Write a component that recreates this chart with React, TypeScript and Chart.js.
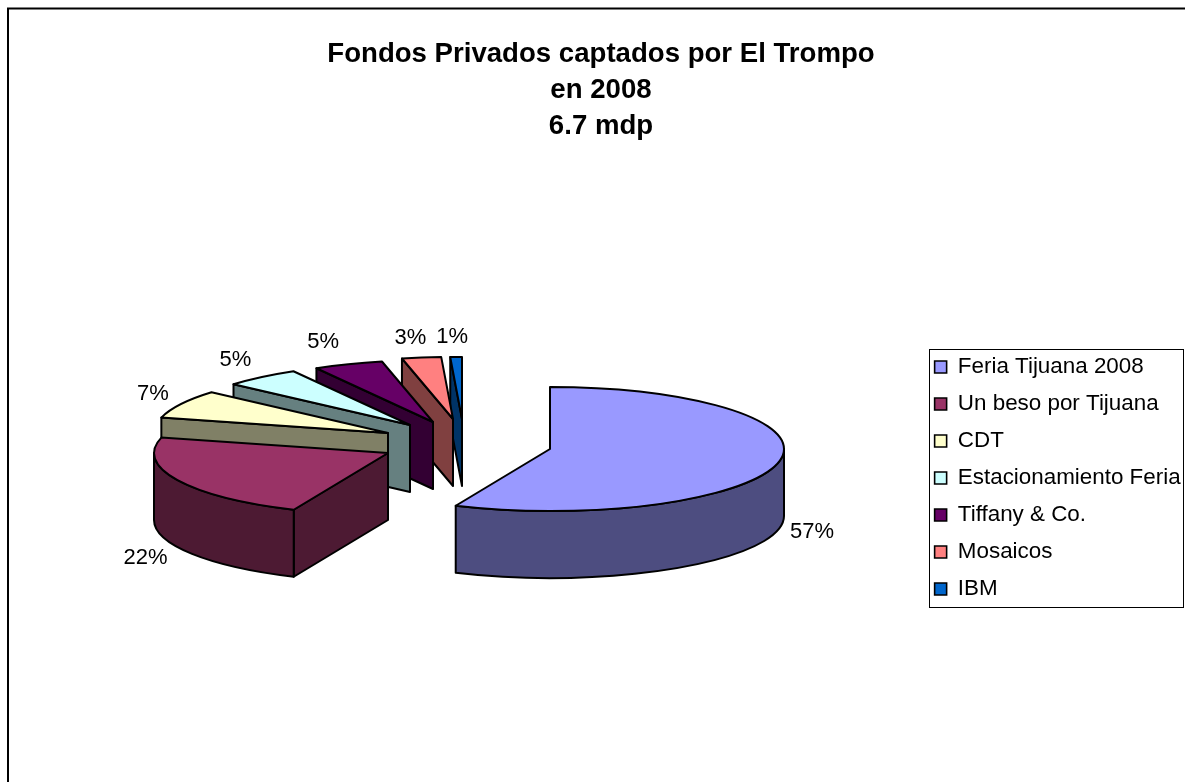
import React, { useEffect, useRef } from "react";
import { Chart, registerables } from "chart.js";

Chart.register(...registerables);

const categories = [
  "Feria Tijuana 2008",
  "Un beso por Tijuana",
  "CDT",
  "Estacionamiento Feria",
  "Tiffany & Co.",
  "Mosaicos",
  "IBM",
];
const shares = [56.6, 22.4, 7.4, 5.3, 4.8, 2.7, 0.8];
const sliceColors = ["#9999FF", "#993366", "#FFFFCC", "#CCFFFF", "#660066", "#FF8080", "#0066CC"];
const titleLines = ["Fondos Privados captados por El Trompo", "en 2008", "6.7 mdp"];

const FONT = "'Liberation Sans', Arial, sans-serif";
const WIDTH = 1185;
const HEIGHT = 782;

// Presentation of the 3D exploded pie
const PIE_CENTER = { x: 550, y: 449 };
const PIE_RADIUS = 234;
const TILT = 0.265;
const DEPTH = 67;
const EXPLODE_X = [0, -162, -162, -140, -117, -97, -88];
const EXPLODE_Y = [0, 4, -16, -24, -27, -30, -30];
const LABEL_NUDGE_X = [33, -32, -28, -26, -25, -11, -4];
const LABEL_NUDGE_Y = [70, 78, -10, -17, -22, -20, -20];

function darken(hex: string): string {
  const n = parseInt(hex.slice(1), 16);
  const r = Math.round(((n >> 16) & 255) / 2);
  const g = Math.round(((n >> 8) & 255) / 2);
  const b = Math.round((n & 255) / 2);
  return `rgb(${r},${g},${b})`;
}

const pie3d = {
  id: "pie3d",
  beforeDraw(chart: any) {
    const { ctx } = chart;
    ctx.save();
    ctx.fillStyle = "#ffffff";
    ctx.fillRect(0, 0, WIDTH, HEIGHT);
    ctx.fillStyle = "#808080";
    ctx.fillRect(7, 7, WIDTH - 7, 1);
    ctx.fillStyle = "#000000";
    ctx.fillRect(7, 8, WIDTH - 7, 1.5);
    ctx.fillRect(7, 8, 2, HEIGHT - 8);
    ctx.restore();
  },
  beforeDatasetDraw(chart: any, args: any) {
    const { ctx } = chart;
    const arcs = args.meta.data;
    ctx.save();
    ctx.lineWidth = 2;
    ctx.lineJoin = "round";
    ctx.strokeStyle = "#000000";
    for (let i = arcs.length - 1; i >= 0; i--) {
      const arc = arcs[i];
      const a = arc.startAngle;
      const b = arc.endAngle;
      const rx = arc.outerRadius;
      const ry = rx * TILT;
      const cx = PIE_CENTER.x + EXPLODE_X[i];
      const cy = PIE_CENTER.y + EXPLODE_Y[i];
      const top = sliceColors[i];
      const side = darken(top);
      const cut = (ang: number) => {
        const x = cx + rx * Math.cos(ang);
        const y = cy + ry * Math.sin(ang);
        ctx.beginPath();
        ctx.moveTo(cx, cy);
        ctx.lineTo(x, y);
        ctx.lineTo(x, y + DEPTH);
        ctx.lineTo(cx, cy + DEPTH);
        ctx.closePath();
        ctx.fillStyle = side;
        ctx.fill();
        ctx.stroke();
      };
      if (Math.cos(a) < -1e-9) cut(a);
      if (Math.cos(b) > 1e-9) cut(b);
      const rimStart = Math.max(a, 0);
      const rimEnd = Math.min(b, Math.PI);
      if (rimStart < rimEnd) {
        ctx.beginPath();
        ctx.ellipse(cx, cy, rx, ry, 0, rimStart, rimEnd);
        ctx.ellipse(cx, cy + DEPTH, rx, ry, 0, rimEnd, rimStart, true);
        ctx.closePath();
        ctx.fillStyle = side;
        ctx.fill();
        ctx.stroke();
      }
      ctx.beginPath();
      ctx.moveTo(cx, cy);
      ctx.ellipse(cx, cy, rx, ry, 0, a, b);
      ctx.closePath();
      ctx.fillStyle = top;
      ctx.fill();
      ctx.stroke();
    }
    ctx.restore();
    return false;
  },
  afterDraw(chart: any) {
    const { ctx, legend } = chart;
    const arcs = chart.getDatasetMeta(0).data;
    ctx.save();
    ctx.fillStyle = "#000000";
    ctx.font = `22px ${FONT}`;
    ctx.textAlign = "center";
    ctx.textBaseline = "middle";
    arcs.forEach((arc: any, i: number) => {
      const mid = (arc.startAngle + arc.endAngle) / 2;
      const x = PIE_CENTER.x + EXPLODE_X[i] + arc.outerRadius * Math.cos(mid) + LABEL_NUDGE_X[i];
      const y = PIE_CENTER.y + EXPLODE_Y[i] + arc.outerRadius * TILT * Math.sin(mid) + LABEL_NUDGE_Y[i];
      ctx.fillText(`${Math.round(shares[i])}%`, x, y);
    });
    const boxes = legend.legendHitBoxes;
    const first = boxes[0];
    const last = boxes[boxes.length - 1];
    const left = Math.round(first.left - 6);
    const topY = Math.round(first.top - 7);
    const bottomY = Math.round(last.top + last.height + 7);
    ctx.strokeStyle = "#000000";
    ctx.lineWidth = 1;
    ctx.strokeRect(left + 0.5, topY + 0.5, WIDTH - 1 - left - 1, bottomY - topY);
    ctx.restore();
  },
};

export default function App() {
  const ref = useRef<HTMLCanvasElement | null>(null);
  useEffect(() => {
    const chart = new Chart(ref.current as HTMLCanvasElement, {
      type: "pie",
      data: {
        labels: categories,
        datasets: [
          {
            data: shares,
            backgroundColor: sliceColors,
            borderColor: "#000000",
            borderWidth: 1.6,
            radius: PIE_RADIUS,
          },
        ],
      },
      options: {
        responsive: false,
        animation: false,
        events: [],
        layout: { padding: { left: 11.4, right: -5.6, top: 0, bottom: 0 } },
        plugins: {
          title: {
            display: true,
            text: titleLines,
            color: "#000000",
            font: { family: FONT, size: 27.6, weight: "bold", lineHeight: 36 / 27.6 },
            padding: { top: 36, bottom: 30 },
          },
          legend: {
            display: true,
            position: "right",
            align: "center",
            fullSize: false,
            labels: {
              color: "#000000",
              font: { family: FONT, size: 22.4, lineHeight: 1 },
              boxWidth: 12,
              boxHeight: 12,
              padding: 14.6,
            },
          },
          tooltip: { enabled: false },
        },
      },
      plugins: [pie3d],
    } as any);
    return () => chart.destroy();
  }, []);
  return (
    <div style={{ position: "absolute", left: 0, top: 0, width: WIDTH, height: HEIGHT, overflow: "hidden" }}>
      <canvas ref={ref} width={WIDTH} height={HEIGHT} style={{ display: "block" }} />
    </div>
  );
}
